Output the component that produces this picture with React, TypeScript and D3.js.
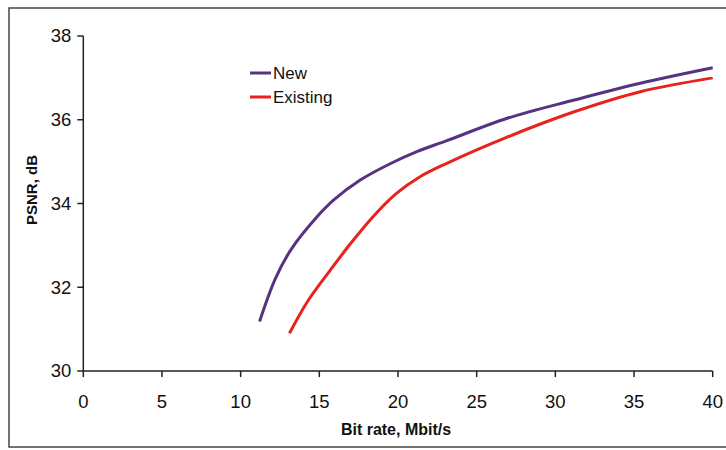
import React from "react";
import * as d3 from "d3";

const newX = [11.2, 12.2, 13.2, 14.8, 15.9, 17.6, 19.5, 21.2, 23.1, 26.9, 31.2, 35.4, 40];
const newY = [31.18, 32.2, 32.9, 33.66, 34.08, 34.56, 34.95, 35.24, 35.5, 36.03, 36.47, 36.87, 37.24];
const existX = [13.1, 14.3, 15.7, 17.0, 18.4, 19.9, 21.4, 23.1, 26.9, 31.2, 35.4, 40];
const existY = [30.9, 31.69, 32.41, 33.05, 33.68, 34.24, 34.64, 34.96, 35.58, 36.19, 36.67, 37.0];
const xTicks = [0, 5, 10, 15, 20, 25, 30, 35, 40];
const yTicks = [30, 32, 34, 36, 38];
const seriesNames = ["New", "Existing"];
const seriesColors = ["#553282", "#e8221c"];

const W = 726, H = 450;
const left = 83.3, right = 712.7, top = 36, bottom = 371;

export default function App() {
  const x = d3.scaleLinear().domain([0, 40]).range([left, right]);
  const y = d3.scaleLinear().domain([30, 38]).range([bottom, top]);
  const line = d3
    .line<[number, number]>()
    .x((d) => x(d[0]))
    .y((d) => y(d[1]))
    .curve(d3.curveCatmullRom.alpha(0.5));
  const series = [
    newX.map((v, i) => [v, newY[i]] as [number, number]),
    existX.map((v, i) => [v, existY[i]] as [number, number]),
  ];
  const font = "'Liberation Sans', Arial, sans-serif";
  const axisColor = "#222";
  return (
    <svg
      width={W}
      height={H}
      style={{ position: "absolute", left: 0, top: 0, background: "#fff" }}
      fontFamily={font}
    >
      <rect x={0} y={0} width={W} height={H} fill="#fff" />
      <rect x={9} y={8} width={760} height={439} fill="none" stroke="#444" strokeWidth={1.5} />
      <line x1={left} x2={left} y1={top} y2={bottom} stroke={axisColor} strokeWidth={1.5} />
      <line x1={left} x2={right} y1={bottom} y2={bottom} stroke={axisColor} strokeWidth={1.5} />
      {yTicks.map((t) => (
        <g key={"y" + t}>
          <line x1={left - 6} x2={left} y1={y(t)} y2={y(t)} stroke={axisColor} strokeWidth={1.5} />
          <text x={left - 12} y={y(t)} dy="0.35em" textAnchor="end" fontSize={18.5} fill="#111">
            {t}
          </text>
        </g>
      ))}
      {xTicks.map((t) => (
        <g key={"x" + t}>
          <line x1={x(t)} x2={x(t)} y1={bottom} y2={bottom + 6} stroke={axisColor} strokeWidth={1.5} />
          <text x={x(t)} y={407.5} textAnchor="middle" fontSize={18.5} fill="#111">
            {t}
          </text>
        </g>
      ))}
      <text x={396} y={435} textAnchor="middle" fontSize={16} fontWeight="bold" fill="#111">
        Bit rate, Mbit/s
      </text>
      <text
        transform={`translate(37,190) rotate(-90)`}
        textAnchor="middle"
        fontSize={15}
        fontWeight="bold"
        fill="#111"
      >
        PSNR, dB
      </text>
      {series.map((s, i) => (
        <path key={i} d={line(s) || ""} fill="none" stroke={seriesColors[i]} strokeWidth={3} />
      ))}
      {seriesNames.map((n, i) => (
        <g key={n}>
          <line x1={250} x2={271} y1={73 + i * 24} y2={73 + i * 24} stroke={seriesColors[i]} strokeWidth={3} />
          <text x={273} y={79 + i * 24} fontSize={17} fill="#111">
            {n}
          </text>
        </g>
      ))}
    </svg>
  );
}
